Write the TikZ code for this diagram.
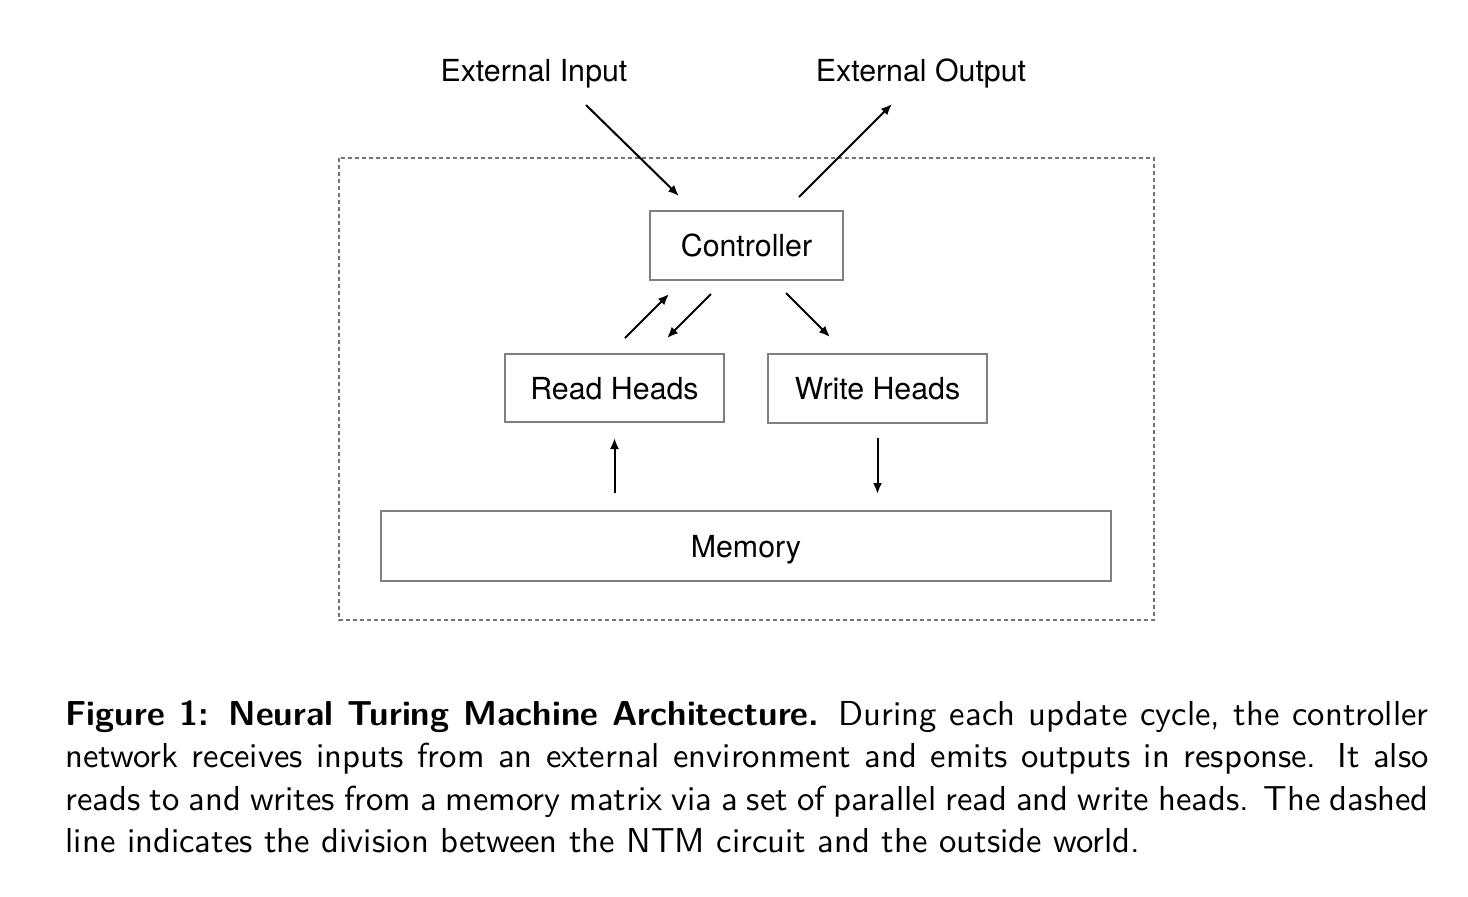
\documentclass[tikz,border=0pt]{standalone}
\usepackage{fontspec}
\newfontfamily\heros{TeX Gyre Heros}
\usetikzlibrary{arrows.meta}
\begin{document}
\begin{tikzpicture}[x=0.3pt,y=-0.3pt,
  box/.style={draw=black!50, line width=0.55pt, inner sep=0, text height=6.6pt, text depth=0pt,
    font=\heros\fontsize{9.1}{10}\selectfont},
  lbl/.style={inner sep=0, text height=6.6pt, text depth=0pt, font=\heros\fontsize{9.1}{10}\selectfont},
  arr/.style={-{Latex[length=3.3pt,width=2.7pt]}, line width=0.6pt},
  border/.style={draw=black!55, dash pattern=on 1.2pt off 0.9pt, line width=0.45pt}]
\useasboundingbox (0,0) rectangle (1468,896);
\fill[white] (0,0) rectangle (1468,896);
% dashed boundary
\draw[border] (339,158) rectangle (1154,620);
% nodes
\node[box, minimum width=57.9pt, minimum height=20.7pt] (ctrl) at (746.5,245.5) {Controller};
\node[box, minimum width=65.7pt, minimum height=20.4pt] (rh) at (614.5,388) {Read Heads};
\node[box, minimum width=65.7pt, minimum height=20.7pt] (wh) at (877.5,388.5) {Write Heads};
\node[box, minimum width=219pt, minimum height=21pt] (mem) at (746,546) {Memory};
\node[lbl] (ein) at (534,70) {External Input};
\node[lbl] (eout) at (921,70) {External Output};
% arrow end points
\coordinate (in1) at (586,105);  \coordinate (in2) at (679,196);
\coordinate (out1) at (799,197); \coordinate (out2) at (892,104);
\coordinate (ru1) at (625,338);  \coordinate (ru2) at (669,294);
\coordinate (rd1) at (711,294);  \coordinate (rd2) at (667,338);
\coordinate (w1) at (786,293);   \coordinate (w2) at (830,337);
\coordinate (m1) at (614.5,493); \coordinate (m2) at (614.5,438);
\coordinate (wm1) at (877.5,438);\coordinate (wm2) at (877.5,494);
\draw[arr] (in1) -- (in2);
\draw[arr] (out1) -- (out2);
\draw[arr] (ru1) -- (ru2);
\draw[arr] (rd1) -- (rd2);
\draw[arr] (w1) -- (w2);
\draw[arr] (m1) -- (m2);
\draw[arr] (wm1) -- (wm2);
% caption
\node[anchor=north west, text width=408.9pt, align=justify, inner sep=0,
  font=\sffamily\fontsize{10.4}{12.75}\selectfont] (cap) at (65,700)
{\textbf{Figure 1: Neural Turing Machine Architecture.} During each update cycle, the controller\linebreak
network receives inputs from an external environment and emits outputs in response. It also\linebreak
reads to and writes from a memory matrix via a set of parallel read and write heads. The dashed\linebreak
line indicates the division between the NTM circuit and the outside world.};
\end{tikzpicture}
\end{document}
